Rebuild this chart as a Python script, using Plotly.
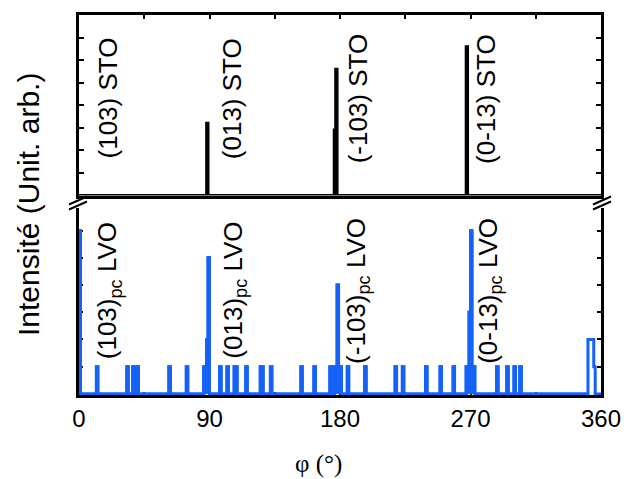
import plotly.graph_objects as go

# ---------------- data ----------------
phi_ticks = [0, 90, 180, 270, 360]
phi_tick_labels = ["0", "90", "180", "270", "360"]

# LVO (pseudo-cubic) phi-scan: 1-degree bins with non-zero counts
lvo_bins = [0, 12, 33, 37, 40, 62, 74, 86, 87, 88, 89, 97, 102, 107, 108, 115,
            125, 126, 132, 153, 162, 173, 176, 177, 178, 179, 180, 185, 197,
            218, 223, 239, 249, 258, 267, 268, 269, 270, 271, 272, 288, 295,
            300, 304, 351, 352, 353, 354, 355]
lvo_counts = [6, 1, 1, 1, 1, 1, 1, 1, 1, 2, 5, 1, 1, 1, 1, 1,
              1, 1, 1, 1, 1, 1, 1, 1, 4, 1, 1, 1, 1,
              1, 1, 1, 1, 1, 1, 1, 3, 6, 1, 1, 1, 1,
              1, 1, 2, 2, 2, 2, 1]

# STO substrate phi-scan
sto_bins = [88, 176, 177, 267]
sto_counts = [3.2, 2.9, 5.6, 6.6]

sto_labels = ["(103) STO", "(013) STO", "(-103) STO", "(0-13) STO"]
lvo_labels = ["(103)<sub>pc</sub> LVO", "(013)<sub>pc</sub> LVO",
              "(-103)<sub>pc</sub> LVO", "(0-13)<sub>pc</sub> LVO"]
sto_label_phi = [20, 106, 193, 281]
lvo_label_phi = [20.5, 107, 192, 283]


def step_series(bins, counts):
    edges = list(range(0, 361))
    vals = [0.0] * 361
    for b, c in zip(bins, counts):
        vals[b] = c
    vals[360] = vals[359]
    return edges, vals


lx, ly = step_series(lvo_bins, lvo_counts)
sx, sy = step_series(sto_bins, sto_counts)

# ---------------- layout constants ----------------
W, H = 624, 479
ML, MR, MT, MB = 79, 23, 15, 84
PW = W - ML - MR
PH = H - MT - MB
BOTTOM = H - MB
top_dom = [(BOTTOM - 195.5) / PH, 1.0]
bot_dom = [0.0, (BOTTOM - 207.5) / PH]

FONT = "Arial, Liberation Sans, sans-serif"
BLUE = "#1462f7"
FILL_UNTIL = 350  # solid-looking clusters; the broad feature near 355 stays an open outline

fig = go.Figure()
fig.add_trace(go.Scatter(x=lx[:FILL_UNTIL + 1], y=ly[:FILL_UNTIL + 1], mode="lines",
                         line=dict(color=BLUE, width=3.0, shape="hv"),
                         fill="tozeroy", fillcolor=BLUE,
                         xaxis="x", yaxis="y", showlegend=False, hoverinfo="skip"))
fig.add_trace(go.Scatter(x=lx, y=ly, mode="lines", line=dict(color=BLUE, width=3.0, shape="hv"),
                         xaxis="x", yaxis="y", showlegend=False, hoverinfo="skip"))
fig.add_trace(go.Scatter(x=sx, y=sy, mode="lines", line=dict(color="black", width=2.9, shape="hv"),
                         xaxis="x2", yaxis="y2", showlegend=False, hoverinfo="skip"))

axis_common = dict(showgrid=False, zeroline=False, showline=True, linecolor="black",
                   tickcolor="black", tickwidth=2, automargin=False)

fig.update_layout(
    width=W, height=H,
    margin=dict(l=ML, r=MR, t=MT, b=MB, autoexpand=False),
    paper_bgcolor="white", plot_bgcolor="white",
    font=dict(family=FONT, color="black"),
    xaxis=dict(axis_common, anchor="y", range=[0, 360], tickvals=phi_ticks,
               ticktext=phi_tick_labels, ticks="inside", ticklen=4, linewidth=3,
               tickfont=dict(size=24, family=FONT),
               layer="below traces",
               minor=dict(tickvals=[45, 135, 225, 315], ticks="inside", ticklen=3,
                          tickwidth=2, tickcolor="black")),
    yaxis=dict(axis_common, domain=bot_dom, range=[-0.04, 6.85], tickvals=[1, 2, 3, 4, 5, 6],
               ticks="inside", ticklen=4, linewidth=3, showticklabels=False,
               mirror="ticks", layer="below traces"),
    xaxis2=dict(axis_common, anchor="y2", side="top", range=[0, 360],
                tickvals=[45, 90, 135, 180, 225, 270, 315], ticks="inside", ticklen=4,
                showticklabels=False, linewidth=3, mirror=True),
    yaxis2=dict(axis_common, domain=top_dom, anchor="x2", range=[0, 8],
                tickvals=[1, 2, 3, 4, 5, 6, 7], ticks="inside", ticklen=5, linewidth=3,
                showticklabels=False, mirror="ticks"),
)

annotations = []
for t, p in zip(sto_labels, sto_label_phi):
    annotations.append(dict(text=t, x=p, y=4.3, xref="x2", yref="y2", showarrow=False,
                            textangle=-90, xanchor="center", yanchor="middle",
                            font=dict(size=26, family=FONT, color="black")))
for t, p in zip(lvo_labels, lvo_label_phi):
    annotations.append(dict(text=t, x=p, y=3.8, xref="x", yref="y", showarrow=False,
                            textangle=-90, xanchor="center", yanchor="middle",
                            font=dict(size=26, family=FONT, color="black")))

# axis titles
annotations.append(dict(text="Intensité (Unit. arb.)", xref="paper", yref="paper",
                        x=(28 - ML) / PW, y=(BOTTOM - 205) / PH, showarrow=False,
                        textangle=-90, xanchor="center", yanchor="middle",
                        font=dict(size=30, family=FONT, color="black")))
annotations.append(dict(text="φ (°)", xref="paper", yref="paper",
                        x=(318 - ML) / PW, y=(BOTTOM - 464) / PH, showarrow=False,
                        xanchor="center", yanchor="middle",
                        font=dict(size=25, family="Liberation Serif, Times New Roman, serif",
                                  color="black")))
fig.update_layout(annotations=annotations)

# axis-break marks on left and right axes
def px_to_paper(px, py):
    return (px - ML) / PW, (BOTTOM - py) / PH

shapes = []
for cx in (ML - 1, W - MR + 1):
    for cy in (200.5, 205.5):
        x0, y0 = px_to_paper(cx - 9, cy + 4)
        x1, y1 = px_to_paper(cx + 9, cy - 4)
        shapes.append(dict(type="line", xref="paper", yref="paper", x0=x0, y0=y0,
                           x1=x1, y1=y1, line=dict(color="black", width=2), layer="above"))
fig.update_layout(shapes=shapes)

fig.write_html("out.html", config={"displayModeBar": False},
               post_script="document.body.style.margin='0';document.body.style.padding='0';")
